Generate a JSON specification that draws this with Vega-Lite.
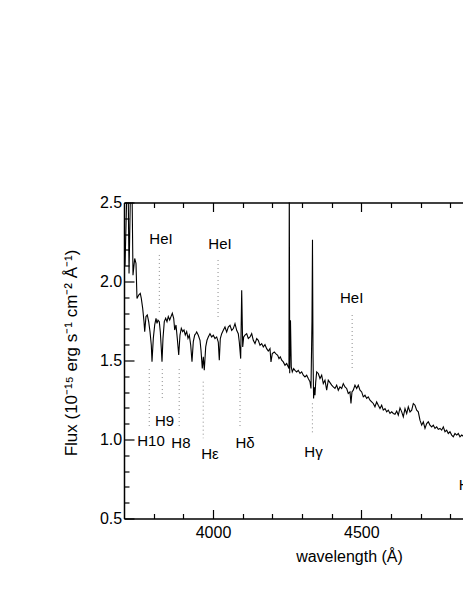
{
  "$schema": "https://vega.github.io/schema/vega-lite/v6.json",
  "width": 339,
  "height": 316,
  "autosize": {"type": "none"},
  "padding": {"left": 124, "top": 202.5, "right": 0, "bottom": 80.5},
  "background": "white",
  "config": {
    "view": {"stroke": null},
    "font": "Liberation Sans",
    "axis": {
      "grid": false,
      "domainColor": "black",
      "domainWidth": 1.5,
      "tickColor": "black",
      "tickWidth": 1.2,
      "labelColor": "black",
      "labelFont": "Liberation Sans",
      "labelFontSize": 16,
      "labelFlush": false,
      "labelOverlap": false,
      "titleFont": "Liberation Sans",
      "titleFontSize": 16,
      "titleFontWeight": "normal",
      "titleColor": "black"
    }
  },
  "datasets": {
    "spec": [
      {"wl": 3703.4, "flux": 2.1}, {"wl": 3710, "flux": 2.6}, {"wl": 3714, "flux": 2.6}, {"wl": 3717, "flux": 2.05},
      {"wl": 3722, "flux": 2.6}, {"wl": 3727, "flux": 2.6}, {"wl": 3730.3, "flux": 2.04}, {"wl": 3736.1, "flux": 2.146},
      {"wl": 3740.4, "flux": 2.115}, {"wl": 3743.8, "flux": 1.893}, {"wl": 3749.5, "flux": 1.914}, {"wl": 3754.9, "flux": 1.925},
      {"wl": 3758.3, "flux": 1.893}, {"wl": 3763.0, "flux": 1.83}, {"wl": 3767.4, "flux": 1.746}, {"wl": 3769.8, "flux": 1.683},
      {"wl": 3774.1, "flux": 1.778}, {"wl": 3778.5, "flux": 1.788}, {"wl": 3783.2, "flux": 1.746}, {"wl": 3787.6, "flux": 1.683},
      {"wl": 3792.0, "flux": 1.598}, {"wl": 3794.4, "flux": 1.493}, {"wl": 3798.8, "flux": 1.64}, {"wl": 3803.5, "flux": 1.725},
      {"wl": 3807.9, "flux": 1.767}, {"wl": 3811.2, "flux": 1.735}, {"wl": 3814.6, "flux": 1.756}, {"wl": 3819.0, "flux": 1.746},
      {"wl": 3822.3, "flux": 1.683}, {"wl": 3825.7, "flux": 1.577}, {"wl": 3828.1, "flux": 1.493}, {"wl": 3831.4, "flux": 1.64},
      {"wl": 3835.8, "flux": 1.746}, {"wl": 3840.5, "flux": 1.767}, {"wl": 3844.9, "flux": 1.746}, {"wl": 3849.3, "flux": 1.778},
      {"wl": 3854.0, "flux": 1.756}, {"wl": 3858.4, "flux": 1.778}, {"wl": 3862.8, "flux": 1.799}, {"wl": 3867.5, "flux": 1.767},
      {"wl": 3870.9, "flux": 1.693}, {"wl": 3875.3, "flux": 1.725}, {"wl": 3879.6, "flux": 1.64}, {"wl": 3884.4, "flux": 1.535},
      {"wl": 3888.7, "flux": 1.661}, {"wl": 3893.1, "flux": 1.704}, {"wl": 3897.8, "flux": 1.683}, {"wl": 3902.2, "flux": 1.693},
      {"wl": 3906.6, "flux": 1.661}, {"wl": 3911.3, "flux": 1.683}, {"wl": 3915.7, "flux": 1.64}, {"wl": 3920.1, "flux": 1.661},
      {"wl": 3924.8, "flux": 1.598}, {"wl": 3929.2, "flux": 1.493}, {"wl": 3933.6, "flux": 1.62}, {"wl": 3938.3, "flux": 1.661},
      {"wl": 3942.7, "flux": 1.672}, {"wl": 3945.0, "flux": 1.68}, {"wl": 3950.4, "flux": 1.66}, {"wl": 3956.2, "flux": 1.628},
      {"wl": 3959.5, "flux": 1.565}, {"wl": 3963.9, "flux": 1.449}, {"wl": 3967.3, "flux": 1.523}, {"wl": 3970.6, "flux": 1.438},
      {"wl": 3975.4, "flux": 1.586}, {"wl": 3979.7, "flux": 1.628}, {"wl": 3984.1, "flux": 1.649}, {"wl": 3989.8, "flux": 1.67},
      {"wl": 3995.6, "flux": 1.649}, {"wl": 4001.0, "flux": 1.66}, {"wl": 4006.7, "flux": 1.639}, {"wl": 4012.4, "flux": 1.649},
      {"wl": 4017.8, "flux": 1.617}, {"wl": 4021.2, "flux": 1.502}, {"wl": 4024.6, "flux": 1.639}, {"wl": 4029.3, "flux": 1.67},
      {"wl": 4034.7, "flux": 1.691}, {"wl": 4040.4, "flux": 1.712}, {"wl": 4046.1, "flux": 1.68}, {"wl": 4051.5, "flux": 1.712},
      {"wl": 4057.3, "flux": 1.723}, {"wl": 4063.0, "flux": 1.691}, {"wl": 4068.4, "flux": 1.702}, {"wl": 4074.1, "flux": 1.733},
      {"wl": 4079.8, "flux": 1.691}, {"wl": 4085.2, "flux": 1.67}, {"wl": 4088.6, "flux": 1.617}, {"wl": 4093.3, "flux": 1.512},
      {"wl": 4096.7, "flux": 1.944}, {"wl": 4100.1, "flux": 1.586}, {"wl": 4103.4, "flux": 1.649}, {"wl": 4107.8, "flux": 1.66},
      {"wl": 4113.5, "flux": 1.67}, {"wl": 4118.9, "flux": 1.639}, {"wl": 4124.7, "flux": 1.649}, {"wl": 4130.4, "flux": 1.67},
      {"wl": 4135.8, "flux": 1.628}, {"wl": 4141.5, "flux": 1.607}, {"wl": 4147.3, "flux": 1.639}, {"wl": 4152.6, "flux": 1.628},
      {"wl": 4158.4, "flux": 1.596}, {"wl": 4164.1, "flux": 1.607}, {"wl": 4169.5, "flux": 1.586}, {"wl": 4175.2, "flux": 1.6},
      {"wl": 4180.9, "flux": 1.575}, {"wl": 4186.3, "flux": 1.56}, {"wl": 4192.1, "flux": 1.575}, {"wl": 4195.4, "flux": 1.491},
      {"wl": 4199.8, "flux": 1.544}, {"wl": 4206.6, "flux": 1.554}, {"wl": 4211.3, "flux": 1.544}, {"wl": 4218.0, "flux": 1.533},
      {"wl": 4222.4, "flux": 1.512}, {"wl": 4226.8, "flux": 1.523}, {"wl": 4231.5, "flux": 1.502}, {"wl": 4236.9, "flux": 1.491},
      {"wl": 4242.6, "flux": 1.47}, {"wl": 4248.3, "flux": 1.481}, {"wl": 4253.7, "flux": 1.459}, {"wl": 4256.0, "flux": 1.45},
      {"wl": 4257.1, "flux": 2.65}, {"wl": 4258.5, "flux": 1.42}, {"wl": 4261.1, "flux": 1.754}, {"wl": 4263.8, "flux": 1.459},
      {"wl": 4267.2, "flux": 1.428}, {"wl": 4271.9, "flux": 1.449}, {"wl": 4276.3, "flux": 1.438}, {"wl": 4282.0, "flux": 1.428},
      {"wl": 4287.4, "flux": 1.438}, {"wl": 4293.2, "flux": 1.418}, {"wl": 4298.9, "flux": 1.428}, {"wl": 4304.3, "flux": 1.407},
      {"wl": 4310.0, "flux": 1.396}, {"wl": 4315.7, "flux": 1.407}, {"wl": 4321.1, "flux": 1.386}, {"wl": 4326.9, "flux": 1.365},
      {"wl": 4330.2, "flux": 1.323}, {"wl": 4333.6, "flux": 1.75}, {"wl": 4335.3, "flux": 2.264}, {"wl": 4337.0, "flux": 1.55},
      {"wl": 4339.0, "flux": 1.26}, {"wl": 4341.4, "flux": 1.33}, {"wl": 4343.7, "flux": 1.28}, {"wl": 4346.0, "flux": 1.36},
      {"wl": 4349.4, "flux": 1.428}, {"wl": 4354.8, "flux": 1.418}, {"wl": 4360.6, "flux": 1.386}, {"wl": 4366.3, "flux": 1.407},
      {"wl": 4371.7, "flux": 1.354}, {"wl": 4377.4, "flux": 1.375}, {"wl": 4383.1, "flux": 1.312}, {"wl": 4388.5, "flux": 1.375},
      {"wl": 4394.3, "flux": 1.36}, {"wl": 4400.0, "flux": 1.344}, {"wl": 4405.4, "flux": 1.333}, {"wl": 4411.1, "flux": 1.323},
      {"wl": 4416.8, "flux": 1.344}, {"wl": 4422.2, "flux": 1.312}, {"wl": 4427.9, "flux": 1.333}, {"wl": 4433.7, "flux": 1.323},
      {"wl": 4439.1, "flux": 1.354}, {"wl": 4444.8, "flux": 1.333}, {"wl": 4450.5, "flux": 1.323}, {"wl": 4455.9, "flux": 1.291},
      {"wl": 4461.7, "flux": 1.301}, {"wl": 4465.0, "flux": 1.228}, {"wl": 4468.4, "flux": 1.301}, {"wl": 4472.8, "flux": 1.312},
      {"wl": 4478.5, "flux": 1.344}, {"wl": 4484.2, "flux": 1.323}, {"wl": 4489.6, "flux": 1.344}, {"wl": 4495.4, "flux": 1.312},
      {"wl": 4501.1, "flux": 1.301}, {"wl": 4506.5, "flux": 1.27}, {"wl": 4512.2, "flux": 1.28}, {"wl": 4517.9, "flux": 1.26},
      {"wl": 4523.3, "flux": 1.27}, {"wl": 4529.1, "flux": 1.249}, {"wl": 4534.8, "flux": 1.238}, {"wl": 4540.2, "flux": 1.228},
      {"wl": 4545.9, "flux": 1.207}, {"wl": 4551.6, "flux": 1.238}, {"wl": 4557.0, "flux": 1.217}, {"wl": 4562.8, "flux": 1.196},
      {"wl": 4568.5, "flux": 1.217}, {"wl": 4573.9, "flux": 1.186}, {"wl": 4579.7, "flux": 1.196}, {"wl": 4585.4, "flux": 1.175},
      {"wl": 4590.8, "flux": 1.186}, {"wl": 4596.5, "flux": 1.165}, {"wl": 4602.3, "flux": 1.175}, {"wl": 4607.7, "flux": 1.165},
      {"wl": 4613.4, "flux": 1.16}, {"wl": 4619.1, "flux": 1.18}, {"wl": 4624.5, "flux": 1.154}, {"wl": 4630.3, "flux": 1.2},
      {"wl": 4636.0, "flux": 1.175}, {"wl": 4641.4, "flux": 1.143}, {"wl": 4647.1, "flux": 1.196}, {"wl": 4652.8, "flux": 1.164},
      {"wl": 4658.2, "flux": 1.207}, {"wl": 4664.0, "flux": 1.175}, {"wl": 4669.7, "flux": 1.186}, {"wl": 4675.1, "flux": 1.228},
      {"wl": 4680.8, "flux": 1.217}, {"wl": 4686.5, "flux": 1.186}, {"wl": 4691.9, "flux": 1.175}, {"wl": 4697.6, "flux": 1.122},
      {"wl": 4703.4, "flux": 1.091}, {"wl": 4708.8, "flux": 1.112}, {"wl": 4714.5, "flux": 1.07}, {"wl": 4720.2, "flux": 1.101},
      {"wl": 4725.6, "flux": 1.112}, {"wl": 4731.3, "flux": 1.091}, {"wl": 4737.1, "flux": 1.08}, {"wl": 4742.5, "flux": 1.091},
      {"wl": 4748.2, "flux": 1.07}, {"wl": 4753.9, "flux": 1.08}, {"wl": 4759.3, "flux": 1.064}, {"wl": 4765.0, "flux": 1.07},
      {"wl": 4770.8, "flux": 1.059}, {"wl": 4776.2, "flux": 1.08}, {"wl": 4781.9, "flux": 1.049}, {"wl": 4787.6, "flux": 1.059},
      {"wl": 4793.0, "flux": 1.038}, {"wl": 4798.7, "flux": 1.049}, {"wl": 4804.5, "flux": 1.028}, {"wl": 4809.9, "flux": 1.017},
      {"wl": 4815.6, "flux": 1.038}, {"wl": 4821.3, "flux": 1.028}, {"wl": 4826.7, "flux": 1.038}, {"wl": 4832.4, "flux": 1.017},
      {"wl": 4838.2, "flux": 1.028}, {"wl": 4843.6, "flux": 1.021}, {"wl": 4850.0, "flux": 1.01}
    ],
    "ids": [
      {"line": "HeI", "wl": 3819, "flux": 2.168, "flux2": 1.801},
      {"line": "HeI", "wl": 4017, "flux": 2.136, "flux2": 1.775},
      {"line": "HeI", "wl": 4469, "flux": 1.788, "flux2": 1.44},
      {"line": "H10", "wl": 3785, "flux": 1.446, "flux2": 1.081},
      {"line": "H9", "wl": 3829, "flux": 1.446, "flux2": 1.25},
      {"line": "H8", "wl": 3886, "flux": 1.446, "flux2": 1.081},
      {"line": "Hε", "wl": 3967, "flux": 1.366, "flux2": 1.008},
      {"line": "Hδ", "wl": 4091, "flux": 1.446, "flux2": 1.081},
      {"line": "Hγ", "wl": 4335, "flux": 1.229, "flux2": 1.039}
    ],
    "labs": [
      {"label": "HeI", "wl": 3824.7, "flux": 2.269},
      {"label": "HeI", "wl": 4023.6, "flux": 2.237},
      {"label": "HeI", "wl": 4467.5, "flux": 1.896},
      {"label": "H10", "wl": 3791, "flux": 0.991},
      {"label": "H9", "wl": 3836.5, "flux": 1.117},
      {"label": "H8", "wl": 3892, "flux": 0.981},
      {"label": "Hε", "wl": 3990, "flux": 0.908},
      {"label": "Hδ", "wl": 4107.8, "flux": 0.981},
      {"label": "Hγ", "wl": 4338.7, "flux": 0.918},
      {"label": "Hβ", "wl": 4861, "flux": 0.712}
    ]
  },
  "layer": [
    {
      "data": {"name": "spec"},
      "mark": {"type": "line", "clip": true, "color": "black", "strokeWidth": 1.1},
      "encoding": {
        "x": {
          "field": "wl", "type": "quantitative",
          "scale": {"domain": [3700, 4842.6], "nice": false, "zero": false},
          "axis": {
            "orient": "bottom",
            "values": [4000, 4500],
            "format": "d",
            "tickSize": -9,
            "labelPadding": 14.5,
            "title": "wavelength (Å)",
            "titleX": 225,
            "titleY": 43,
            "titleAlign": "center",
            "titleBaseline": "alphabetic"
          }
        },
        "y": {
          "field": "flux", "type": "quantitative",
          "scale": {"domain": [0.5, 2.5], "nice": false, "zero": false},
          "axis": {
            "orient": "left",
            "values": [0.5, 1.0, 1.5, 2.0, 2.5],
            "format": ".1f",
            "tickSize": -10,
            "labelPadding": 12.3,
            "title": "Flux (10⁻¹⁵ erg s⁻¹ cm⁻² Å⁻¹)",
            "titleFontSize": 17,
            "titleAngle": 270,
            "titleX": -53,
            "titleY": 150,
            "titleAlign": "center",
            "titleBaseline": "middle"
          }
        }
      }
    },
    {
      "data": {"name": "ids"},
      "transform": [{"filter": "datum.line === 'HeI'"}],
      "mark": {"type": "rule", "color": "#8a8a8a", "strokeWidth": 1, "strokeDash": [1, 3]},
      "encoding": {
        "x": {
          "field": "wl", "type": "quantitative",
          "scale": {"domain": [3700, 4842.6], "nice": false, "zero": false},
          "axis": {"orient": "top", "values": [4000, 4500], "tickSize": -9, "labels": false, "title": null}
        },
        "y": {
          "field": "flux", "type": "quantitative",
          "scale": {"domain": [0.5, 2.5], "nice": false, "zero": false},
          "axis": {
            "orient": "left",
            "values": [0.6, 0.7, 0.8, 0.9, 1.1, 1.2, 1.3, 1.4, 1.6, 1.7, 1.8, 1.9, 2.1, 2.2, 2.3, 2.4],
            "tickSize": -5, "labels": false, "domain": false, "title": null
          }
        },
        "y2": {"field": "flux2"}
      }
    },
    {
      "data": {"name": "ids"},
      "transform": [{"filter": "datum.line !== 'HeI'"}],
      "mark": {"type": "rule", "color": "#8a8a8a", "strokeWidth": 1, "strokeDash": [1, 3]},
      "encoding": {
        "x": {
          "field": "wl", "type": "quantitative",
          "scale": {"domain": [3700, 4842.6], "nice": false, "zero": false},
          "axis": {"orient": "top", "values": [3800, 3900, 4100, 4200, 4300, 4400, 4600, 4700, 4800], "tickSize": -5, "labels": false, "domain": false, "title": null}
        },
        "y": {
          "field": "flux", "type": "quantitative",
          "scale": {"domain": [0.5, 2.5], "nice": false, "zero": false},
          "axis": null
        },
        "y2": {"field": "flux2"}
      }
    },
    {
      "data": {"name": "labs"},
      "mark": {"type": "text", "fontSize": 15, "font": "Liberation Sans", "color": "black", "align": "center", "baseline": "middle"},
      "encoding": {
        "x": {
          "field": "wl", "type": "quantitative",
          "scale": {"domain": [3700, 4842.6], "nice": false, "zero": false},
          "axis": {"orient": "bottom", "values": [3800, 3900, 4100, 4200, 4300, 4400, 4600, 4700, 4800], "tickSize": -5, "labels": false, "domain": false, "title": null}
        },
        "y": {
          "field": "flux", "type": "quantitative",
          "scale": {"domain": [0.5, 2.5], "nice": false, "zero": false},
          "axis": null
        },
        "text": {"field": "label"}
      }
    }
  ],
  "resolve": {"scale": {"x": "independent", "y": "independent"}, "axis": {"x": "independent", "y": "independent"}}
}
